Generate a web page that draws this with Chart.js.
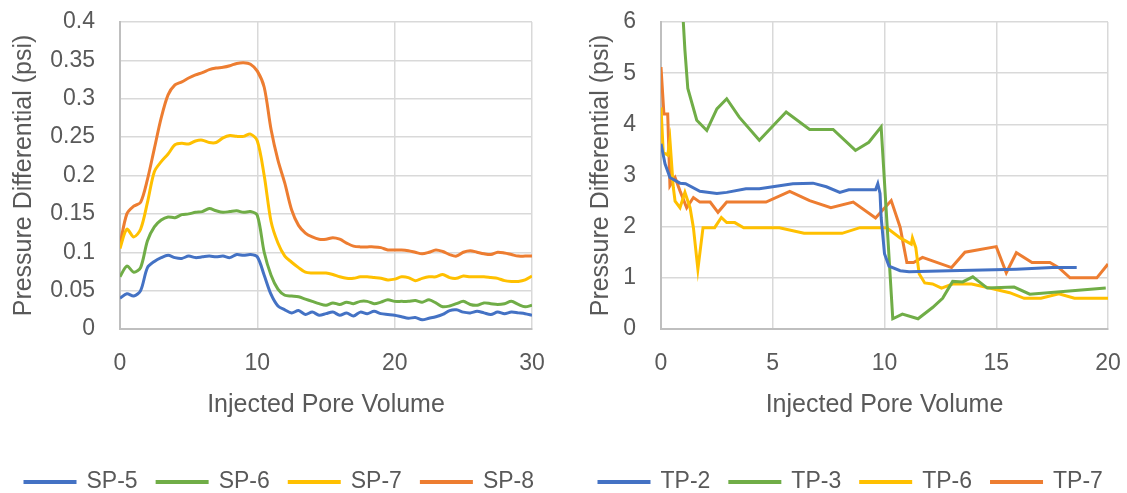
<!DOCTYPE html>
<html><head><meta charset="utf-8">
<script src="https://cdn.jsdelivr.net/npm/chart.js@4.4.0/dist/chart.umd.min.js"></script>
<style>
html,body{margin:0;padding:0;background:#fff;overflow:hidden;width:1127px;height:493px;position:relative;}
#c1{position:absolute;left:0;top:0;}
#c2{position:absolute;left:560px;top:0;}
</style></head><body>
<canvas id="c1" width="575" height="493" style="width:575px;height:493px"></canvas>
<canvas id="c2" width="590" height="493" style="width:590px;height:493px"></canvas>
<script>
// ---------- Left chart data (SP series) ----------
const pvLeft = [0,0.5,1,1.5,2,2.5,3,3.5,4,4.5,5,5.5,6,6.5,7,7.5,8,8.5,9,9.5,10,10.5,11,11.5,12,12.5,13,13.5,14,14.5,15,15.5,16,16.5,17,17.5,18,18.5,19,19.5,20,20.5,21,21.5,22,22.5,23,23.5,24,24.5,25,25.5,26,26.5,27,27.5,28,28.5,29,29.5,30];
const sp5 = [0.04,0.046,0.043,0.05,0.08,0.088,0.093,0.096,0.093,0.092,0.095,0.093,0.094,0.095,0.094,0.095,0.093,0.097,0.096,0.097,0.094,0.07,0.045,0.03,0.025,0.021,0.024,0.019,0.022,0.018,0.02,0.022,0.018,0.021,0.017,0.022,0.02,0.023,0.02,0.019,0.018,0.016,0.014,0.015,0.012,0.014,0.016,0.019,0.024,0.025,0.022,0.021,0.023,0.021,0.019,0.022,0.02,0.022,0.021,0.02,0.018];
const sp6 = [0.068,0.082,0.074,0.08,0.115,0.133,0.142,0.146,0.145,0.149,0.15,0.152,0.153,0.157,0.154,0.152,0.153,0.154,0.152,0.153,0.148,0.1,0.07,0.052,0.044,0.043,0.042,0.039,0.036,0.033,0.031,0.034,0.032,0.035,0.033,0.036,0.036,0.033,0.035,0.038,0.036,0.036,0.036,0.037,0.035,0.038,0.034,0.029,0.03,0.033,0.036,0.032,0.031,0.034,0.033,0.032,0.033,0.036,0.032,0.029,0.031];
const sp7 = [0.105,0.13,0.12,0.13,0.165,0.205,0.218,0.228,0.24,0.242,0.241,0.245,0.246,0.243,0.243,0.249,0.252,0.251,0.251,0.254,0.245,0.2,0.14,0.112,0.095,0.087,0.08,0.074,0.073,0.073,0.073,0.071,0.068,0.066,0.066,0.068,0.068,0.067,0.066,0.064,0.065,0.068,0.067,0.063,0.066,0.068,0.068,0.071,0.067,0.066,0.069,0.068,0.068,0.068,0.067,0.066,0.063,0.062,0.062,0.064,0.069];
const sp8 = [0.11,0.15,0.16,0.165,0.195,0.235,0.275,0.305,0.318,0.322,0.327,0.331,0.334,0.338,0.34,0.341,0.343,0.346,0.347,0.345,0.336,0.315,0.26,0.22,0.19,0.155,0.135,0.125,0.12,0.117,0.117,0.119,0.117,0.112,0.108,0.107,0.107,0.107,0.106,0.103,0.103,0.103,0.102,0.1,0.098,0.1,0.103,0.101,0.097,0.095,0.1,0.102,0.1,0.098,0.097,0.1,0.099,0.097,0.095,0.095,0.095];
const leftXTicks = [0,10,20,30];
const leftYTicks = [0,0.05,0.1,0.15,0.2,0.25,0.3,0.35,0.4];

// ---------- Right chart data (TP series) ----------
const tp2X = [0,0.18,0.4,0.85,1.1,1.74,2.5,2.94,3.8,4.4,5.0,5.9,6.8,7.4,8.0,8.4,9.6,9.7,9.8,9.85,10.0,10.2,10.7,11.1,12.9,15.9,17.5,18.6];
const tp2Y = [3.62,3.23,2.96,2.85,2.84,2.69,2.65,2.67,2.74,2.74,2.78,2.84,2.85,2.78,2.67,2.72,2.72,2.84,2.65,2.18,1.47,1.23,1.14,1.12,1.14,1.17,1.2,1.2];
const tp3X = [0.8,1.07,1.2,1.6,2.05,2.5,2.94,3.5,4.4,5.6,6.65,7.7,8.7,9.3,9.85,10.37,10.8,11.5,12.15,12.6,13.05,13.5,13.95,14.6,15.8,16.5,19.9];
const tp3Y = [7.5,5.45,4.7,4.08,3.88,4.3,4.5,4.14,3.69,4.24,3.9,3.9,3.49,3.65,3.95,0.2,0.29,0.2,0.42,0.6,0.93,0.92,1.02,0.8,0.82,0.68,0.8];
const tp6X = [0,0.1,0.3,0.4,0.55,0.63,0.85,1.07,1.3,1.45,1.65,1.88,2.4,2.7,2.94,3.3,3.7,5.3,6.4,8.1,8.9,10.1,10.7,11.2,11.25,11.4,11.55,11.8,12.15,12.55,13.05,13.9,14.7,15.6,16.25,17.0,17.8,18.5,20];
const tp6Y = [4.33,3.45,3.4,3.69,2.77,2.5,2.37,2.67,2.37,1.98,1.17,1.98,1.98,2.18,2.08,2.08,1.98,1.98,1.87,1.87,1.98,1.98,1.78,1.66,1.78,1.59,1.08,0.9,0.88,0.8,0.88,0.88,0.8,0.71,0.6,0.6,0.69,0.6,0.6];
const tp7X = [0,0.13,0.3,0.4,0.63,0.85,1.15,1.45,1.74,2.2,2.55,2.94,4.7,5.76,6.65,7.6,8.6,9.6,10.3,10.7,11.0,11.3,11.7,13.0,13.6,15.0,15.45,15.9,16.6,17.4,17.8,18.3,19.5,20];
const tp7Y = [5.12,4.2,4.2,2.8,2.96,2.7,2.37,2.57,2.48,2.48,2.28,2.48,2.48,2.69,2.51,2.37,2.48,2.17,2.51,1.99,1.3,1.3,1.4,1.2,1.5,1.61,1.1,1.49,1.3,1.3,1.2,1.0,1.0,1.27];
const rightXTicks = [0,5,10,15,20];
const rightYTicks = [0,1,2,3,4,5,6];

const BLUE = '#4472C4', GREEN = '#70AD47', YELLOW = '#FFC000', ORANGE = '#ED7D31';
const TXT = '#595959';
const FAM = '"Liberation Sans", Arial, sans-serif';

function pts(xs, ys) { return xs.map((x, i) => ({x: x, y: ys[i]})); }
function ds(label, data, color, tension) {
  return {label, data, borderColor: color, backgroundColor: color, borderWidth: 3,
    pointRadius: 0, pointHoverRadius: 0, fill: false, tension: tension};
}

function makeChart(id, datasets, o) {
  return new Chart(document.getElementById(id), {
    type: 'line',
    data: {datasets},
    options: {
      responsive: false, animation: false, devicePixelRatio: 1,
      layout: {padding: {left: o.padLeft, right: 0, top: 22, bottom: 0}},
      plugins: {
        tooltip: {enabled: false},
        legend: {
          position: 'bottom', align: 'start', maxHeight: 42,
          labels: {boxWidth: 50, boxHeight: 1, padding: 19.5, color: TXT,
            font: {family: FAM, size: 23}}
        }
      },
      scales: {
        x: {
          type: 'linear', min: o.xTicks[0], max: o.xTicks[o.xTicks.length - 1],
          afterBuildTicks: s => { s.ticks = o.xTicks.map(v => ({value: v})); },
          afterFit: s => { s.height = 122; s.paddingRight = o.padRight; s.paddingLeft = 0; },
          grid: {color: '#d9d9d9', lineWidth: 1.5, drawTicks: false},
          border: {color: '#bfbfbf', width: 2},
          ticks: {padding: 21, color: TXT, font: {family: FAM, size: 23}, maxRotation: 0,
            callback: v => String(v)},
          title: {display: true, text: 'Injected Pore Volume', color: TXT,
            font: {family: FAM, size: 25}, padding: {top: 0, bottom: 31}}
        },
        y: {
          min: o.yTicks[0], max: o.yTicks[o.yTicks.length - 1],
          afterBuildTicks: s => { s.ticks = o.yTicks.map(v => ({value: v})); },
          afterFit: s => { s.width = o.yWidth; s.paddingTop = 0; s.paddingBottom = 0; },
          grid: {color: '#d9d9d9', lineWidth: 1.5, drawTicks: false},
          border: {color: '#bfbfbf', width: 2},
          ticks: {padding: 25, color: TXT, font: {family: FAM, size: 23},
            callback: v => String(Number(v.toFixed(2)))},
          title: {display: true, text: 'Pressure Differential (psi)', color: TXT,
            font: {family: FAM, size: 25}, padding: {top: o.titlePad, bottom: 0}}
        }
      }
    }
  });
}

makeChart('c1', [
  ds('SP-5', pts(pvLeft, sp5), BLUE, 0.3),
  ds('SP-6', pts(pvLeft, sp6), GREEN, 0.3),
  ds('SP-7', pts(pvLeft, sp7), YELLOW, 0.3),
  ds('SP-8', pts(pvLeft, sp8), ORANGE, 0.3)
], {padLeft: 5.5, yWidth: 114.5, padRight: 575 - 532, titlePad: 3.5, xTicks: leftXTicks, yTicks: leftYTicks});

makeChart('c2', [
  ds('TP-2', pts(tp2X, tp2Y), BLUE, 0),
  ds('TP-3', pts(tp3X, tp3Y), GREEN, 0),
  ds('TP-6', pts(tp6X, tp6Y), YELLOW, 0),
  ds('TP-7', pts(tp7X, tp7Y), ORANGE, 0)
], {padLeft: 19.5, yWidth: 81.5, padRight: 590 - 548, titlePad: 6.5, xTicks: rightXTicks, yTicks: rightYTicks});
</script>
</body></html>
